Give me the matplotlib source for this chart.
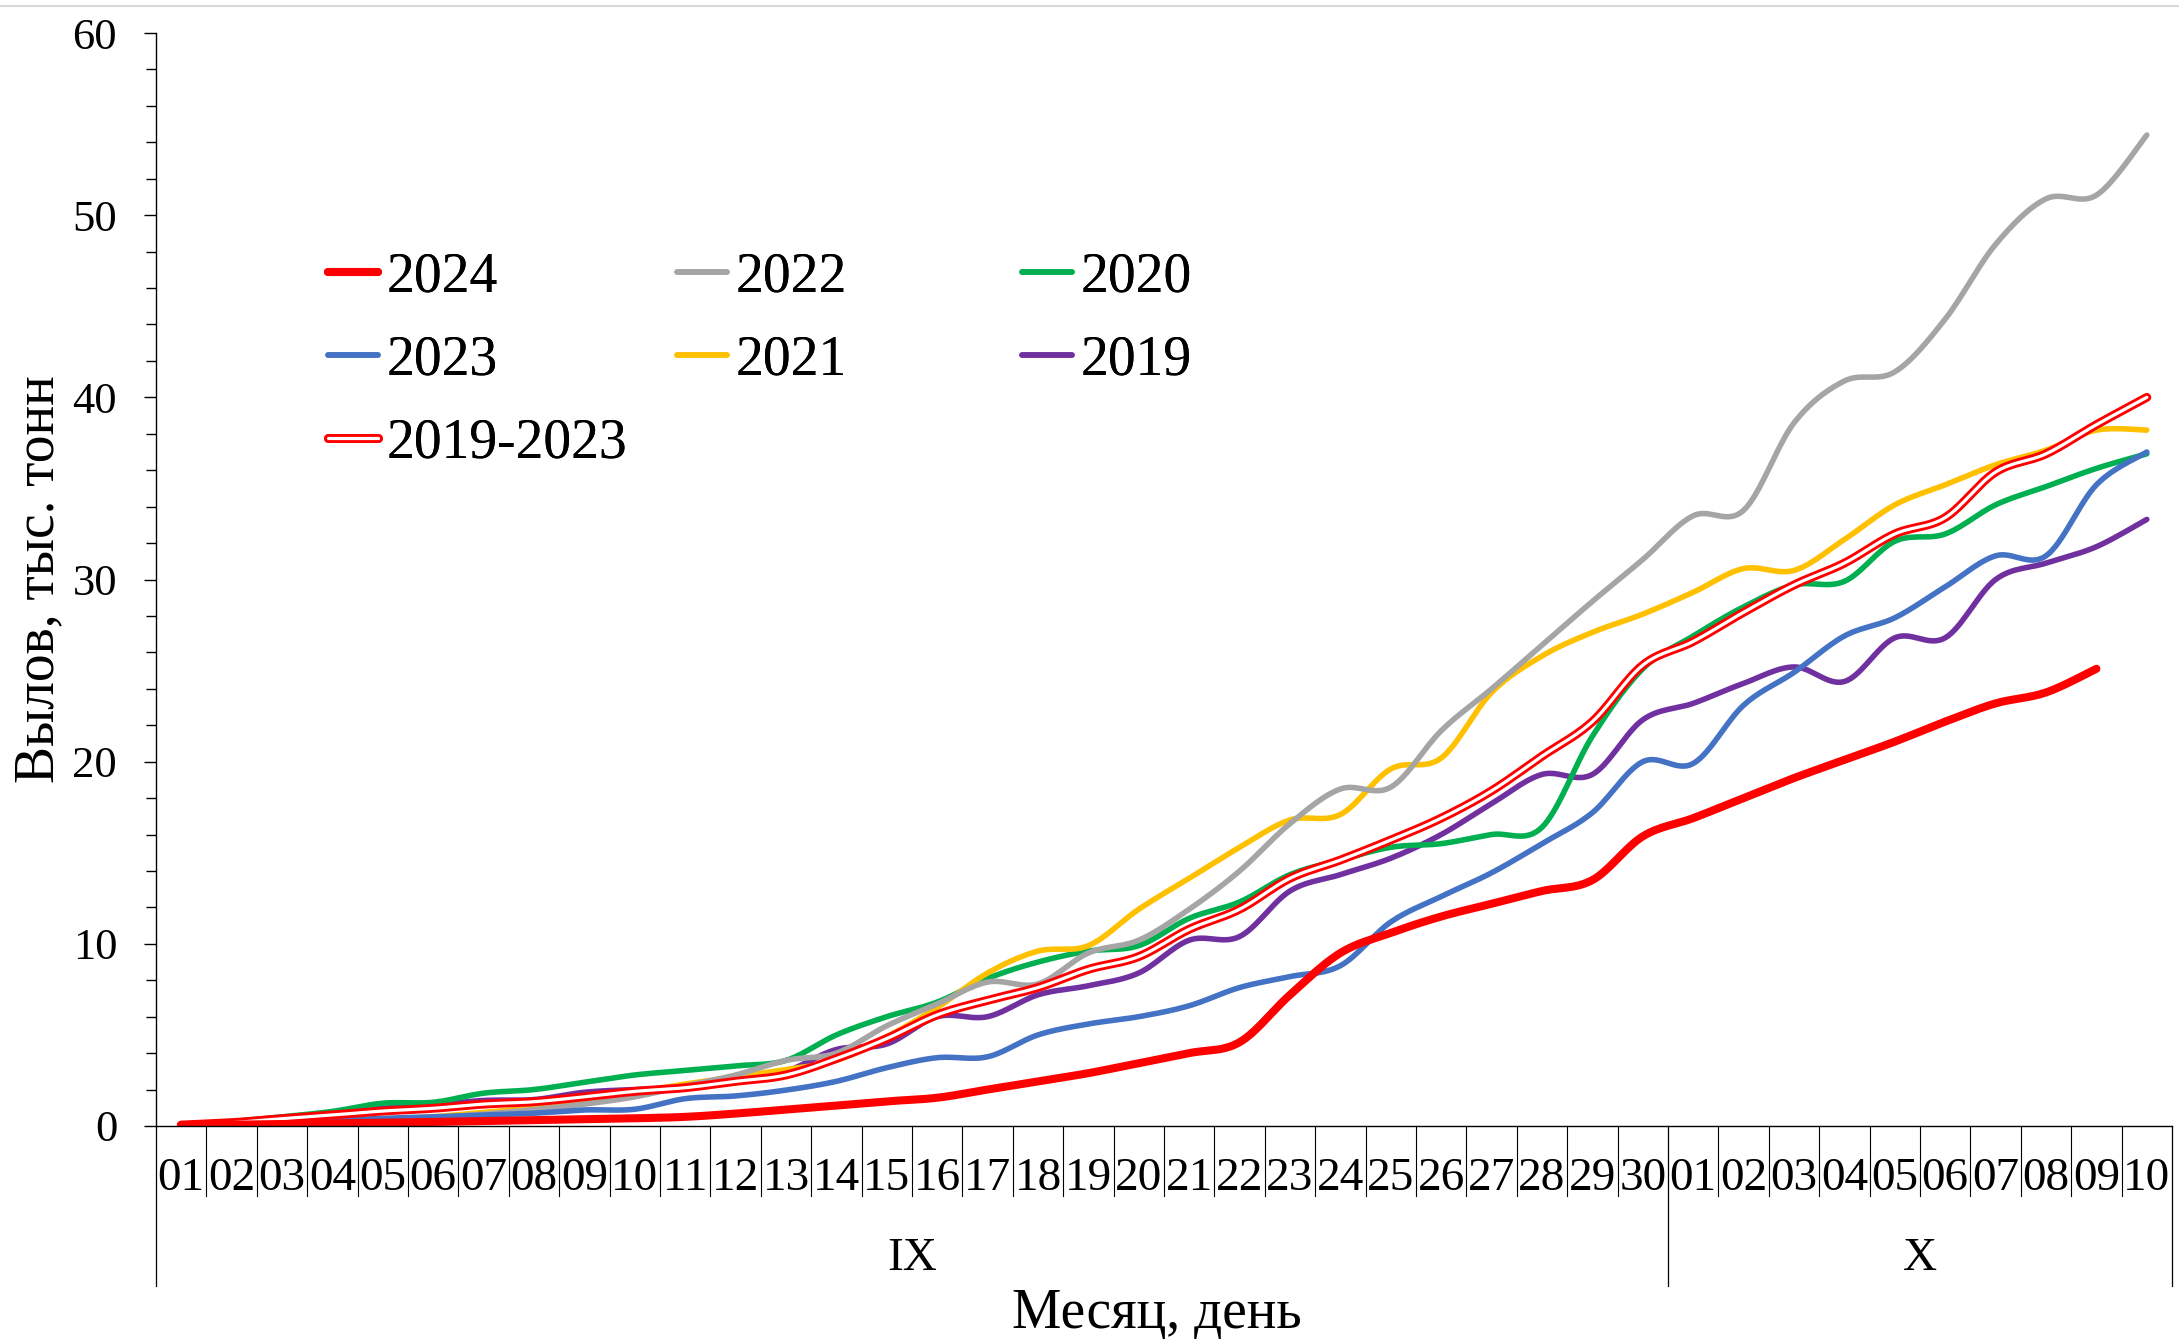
import numpy as np
import matplotlib.pyplot as plt
import matplotlib.patheffects as pe
from matplotlib.lines import Line2D
from matplotlib.ticker import MultipleLocator

plt.rcParams['font.family'] = ['Liberation Serif', 'DejaVu Serif']

# day labels: September 01-30, October 01-10
days = ["01", "02", "03", "04", "05", "06", "07", "08", "09", "10",
        "11", "12", "13", "14", "15", "16", "17", "18", "19", "20",
        "21", "22", "23", "24", "25", "26", "27", "28", "29", "30",
        "01", "02", "03", "04", "05", "06", "07", "08", "09", "10"]
months = ["IX", "X"]
month_len = [30, 10]

# catch, thousand tonnes (cumulative)
y2024 = [0.05, 0.07, 0.11, 0.15, 0.18, 0.22, 0.27, 0.32, 0.37, 0.42,
         0.5, 0.68, 0.9, 1.12, 1.35, 1.55, 2.0, 2.45, 2.9, 3.45,
         4.0, 4.6, 7.2, 9.5, 10.6, 11.5, 12.2, 12.9, 13.5, 15.9,
         16.9, 18.0, 19.1, 20.1, 21.1, 22.2, 23.2, 23.8, 25.1]
y2023 = [0.05, 0.1, 0.22, 0.32, 0.42, 0.5, 0.6, 0.7, 0.88, 0.92,
         1.5, 1.65, 1.97, 2.45, 3.2, 3.75, 3.8, 5.0, 5.6, 6.0,
         6.6, 7.6, 8.2, 8.8, 11.2, 12.6, 13.9, 15.5, 17.2, 20.0,
         19.9, 23.1, 24.9, 26.9, 27.9, 29.6, 31.3, 31.3, 35.2, 37.0]
y2022 = [0.0, 0.05, 0.1, 0.15, 0.25, 0.45, 0.65, 0.9, 1.2, 1.6,
         2.2, 2.8, 3.6, 4.0, 5.5, 6.7, 7.9, 7.8, 9.5, 10.2,
         11.9, 14.0, 16.6, 18.5, 18.6, 21.7, 24.0, 26.4, 28.8, 31.1,
         33.5, 33.8, 38.6, 40.9, 41.4, 44.3, 48.4, 50.9, 51.1, 54.4]
y2021 = [0.0, 0.03, 0.08, 0.15, 0.3, 0.5, 0.75, 1.0, 1.4, 1.85,
         2.3, 2.7, 3.1, 3.6, 4.9, 6.5, 8.4, 9.6, 9.9, 11.9,
         13.6, 15.3, 16.8, 17.1, 19.6, 20.2, 23.8, 25.8, 27.1, 28.1,
         29.3, 30.6, 30.5, 32.2, 34.1, 35.2, 36.3, 37.1, 38.2, 38.2]
y2020 = [0.1, 0.25, 0.5, 0.8, 1.25, 1.3, 1.8, 2.0, 2.4, 2.8,
         3.05, 3.3, 3.6, 5.0, 6.0, 6.8, 8.1, 9.0, 9.6, 9.9,
         11.4, 12.3, 13.8, 14.6, 15.3, 15.5, 16.0, 16.4, 21.4, 25.1,
         26.9, 28.5, 29.7, 29.9, 32.1, 32.5, 34.1, 35.1, 36.1, 36.9]
y2019 = [0.1, 0.18, 0.42, 0.7, 0.97, 1.15, 1.4, 1.45, 1.85, 2.0,
         2.1, 2.45, 3.0, 4.2, 4.5, 6.0, 6.0, 7.2, 7.7, 8.4,
         10.2, 10.4, 12.9, 13.8, 14.7, 16.0, 17.7, 19.3, 19.3, 22.3,
         23.2, 24.3, 25.2, 24.4, 26.8, 26.8, 30.0, 30.9, 31.8, 33.3]
y_avg = [0.05, 0.18, 0.4, 0.6, 0.82, 0.97, 1.2, 1.33, 1.6, 1.9,
         2.1, 2.45, 2.8, 3.7, 4.8, 6.1, 6.9, 7.6, 8.6, 9.3,
         10.8, 11.9, 13.6, 14.6, 15.7, 16.9, 18.4, 20.3, 22.2, 25.3,
         26.6, 28.2, 29.7, 30.9, 32.5, 33.4, 35.9, 36.9, 38.5, 40.0]


def smooth(y, n=16):
    # Excel-like smoothed line: cubic Bezier through the points
    y = np.asarray(y, float)
    pts = np.column_stack([np.arange(len(y), dtype=float), y])
    ext = np.vstack([pts[0], pts, pts[-1]])
    t = np.linspace(0, 1, n, endpoint=False)[:, None]
    out = []
    for i in range(len(pts) - 1):
        p0, p1, p2, p3 = ext[i], ext[i + 1], ext[i + 2], ext[i + 3]
        c1 = p1 + (p2 - p0) / 6
        c2 = p2 - (p3 - p1) / 6
        out.append((1 - t)**3 * p1 + 3 * (1 - t)**2 * t * c1 + 3 * (1 - t) * t**2 * c2 + t**3 * p2)
    out.append(pts[-1:])
    out = np.vstack(out)
    return out[:, 0], out[:, 1]


fig = plt.figure(figsize=(21.79, 13.43), dpi=100)
ax = fig.add_axes([0.0716, 0.1616, 0.9252, 0.8138])

h = {}
for label, ys, col in [("2019", y2019, "#7030A0"), ("2020", y2020, "#00B050"),
                       ("2021", y2021, "#FFC000"), ("2022", y2022, "#A5A5A5"),
                       ("2023", y2023, "#4472C4")]:
    xs, ss = smooth(ys)
    h[label], = ax.plot(xs, ss, color=col, lw=4.0, solid_capstyle='round', label=label)

xs, ss = smooth(y_avg)
h["2019-2023"], = ax.plot(xs, ss, color="white", lw=2.3, solid_capstyle='round', label="2019-2023",
                          path_effects=[pe.Stroke(linewidth=6.4, foreground="#FF0000", capstyle='round'), pe.Normal()])
xs, ss = smooth(y2024)
h["2024"], = ax.plot(xs, ss, color="#FF0000", lw=5.8, solid_capstyle='round', label="2024")

ax.set_xlim(-0.5, len(days) - 0.5)
ax.set_ylim(0, 60)
ax.spines['top'].set_visible(False)
ax.spines['right'].set_visible(False)
ax.spines['left'].set_linewidth(1.0)
ax.spines['bottom'].set_linewidth(1.0)
ax.set_yticks(range(0, 61, 10))
ax.yaxis.set_minor_locator(MultipleLocator(2))
ax.tick_params(axis='y', which='major', length=9, width=1, labelsize=32, pad=19)
ax.tick_params(axis='y', which='minor', length=7, width=1)
ax.set_xticks([])

# two-level category axis
tr = ax.get_xaxis_transform()
for k in range(1, len(days)):
    if k != month_len[0]:
        ax.plot([k - 0.5, k - 0.5], [0, -0.064], transform=tr, color='black', lw=0.8, clip_on=False)
for b in [-0.5, month_len[0] - 0.5, len(days) - 0.5]:
    ax.plot([b, b], [0, -0.146], transform=tr, color='black', lw=0.9, clip_on=False)
for i, d in enumerate(days):
    ax.text(i, -0.0485, d, transform=tr, ha='center', va='center', fontsize=34)
start = 0
for m, n in zip(months, month_len):
    ax.text(start + n / 2 - 0.5, -0.1217, m, transform=tr, ha='center', va='center', fontsize=34)
    start += n

fig.text(1157 / 2179, 1 - 1314 / 1343, "Месяц, день", ha='center', va='center', fontsize=40)
fig.text(0.0179, 0.569, "Вылов, тыс. тонн", rotation=90, ha='center', va='center', fontsize=40)

# legend in three equal columns
cols = [["2024", "2023", "2019-2023"], ["2022", "2021"], ["2020", "2019"]]
col_x = [0.1505, 0.3107, 0.4690]
for names, cx in zip(cols, col_x):
    leg = fig.legend([h[n] for n in names], names, loc='upper left', bbox_to_anchor=(cx, 0.8126),
                     frameon=False, fontsize=40, handlelength=0.9, handletextpad=0.15,
                     borderpad=0, borderaxespad=0, labelspacing=0.56)
    fig.add_artist(leg)

fig.add_artist(Line2D([0, 1], [1 - 6 / 1343] * 2, color='#D9D9D9', lw=1.5, transform=fig.transFigure))

fig.savefig("out.png", dpi=100)
